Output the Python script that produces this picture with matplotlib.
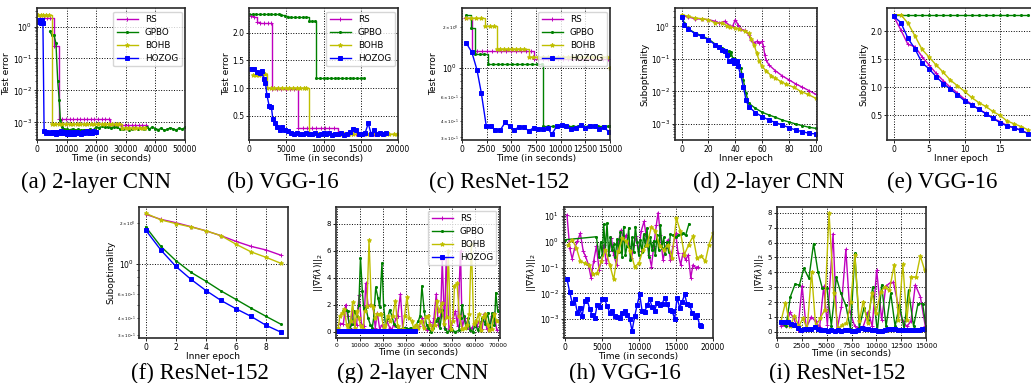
import matplotlib
matplotlib.use('Agg')
import matplotlib.pyplot as plt

W, H = 1031, 383

methods = ['RS', 'GPBO', 'BOHB', 'HOZOG']
colors = {'RS': 'm', 'GPBO': 'g', 'BOHB': 'y', 'HOZOG': 'b'}
markers = {'RS': '+', 'GPBO': '.', 'BOHB': '*', 'HOZOG': 's'}
msizes = {'RS': 3.0, 'GPBO': 3.0, 'BOHB': 3.2, 'HOZOG': 2.2}

captions = ['(a) 2-layer CNN', '(b) VGG-16', '(c) ResNet-152', '(d) 2-layer CNN', '(e) VGG-16',
            '(f) ResNet-152', '(g) 2-layer CNN', '(h) VGG-16', '(i) ResNet-152']

# ---------------- (a) 2-layer CNN test error ----------------
a_rs_t = [1100, 2200, 3300, 4400, 5600, 6500, 7300, 8500, 9700, 11000, 12200, 13400, 14600, 15800,
          17000, 18200, 19400, 20600, 21800, 23000, 24200, 24700, 26000, 27200, 28400, 29600,
          30800, 32000, 33200, 34400, 35600, 36700]
a_rs_v = [1.8, 1.8, 1.8, 1.8, 0.25, 0.25, 1.3e-3, 1.3e-3, 1.3e-3, 1.3e-3, 1.3e-3, 1.3e-3, 1.3e-3, 1.3e-3,
          1.3e-3, 1.3e-3, 1.3e-3, 1.3e-3, 1.3e-3, 1.3e-3, 1.3e-3, 8.5e-4, 8.5e-4, 8.5e-4, 8.5e-4, 8.5e-4,
          8.5e-4, 8.5e-4, 8.5e-4, 8.5e-4, 8.5e-4, 8.5e-4]
a_gp_t = [4300, 5000, 5700, 6400, 7000, 7500, 7900, 8500, 9200,
          10000, 11000, 12000, 13000, 14000, 15000, 16000, 17000, 18000, 19000,
          20000, 21000, 22000, 23000, 24000, 25000, 26000, 27000, 28000, 29000,
          30000, 31000, 32000, 33000, 34000, 35000, 36000, 37000, 38000, 39000,
          40000, 41000, 42000, 43000, 44000, 45000, 46000, 47000, 48000, 49000, 50000]
a_gp_v = [0.7, 0.55, 0.55, 0.3, 0.02, 5e-3, 1.2e-3, 7e-4, 6.2e-4,
          6.0e-4, 5.8e-4, 6.2e-4, 5.7e-4, 6.0e-4, 5.6e-4, 5.9e-4, 5.7e-4, 6.1e-4, 5.8e-4,
          7.2e-4, 6.8e-4, 7.5e-4, 6.9e-4, 7.3e-4, 6.6e-4, 7.4e-4, 7.0e-4, 6.3e-4, 6.0e-4,
          6.5e-4, 5.8e-4, 6.2e-4, 6.8e-4, 6.0e-4, 6.6e-4, 6.1e-4, 6.9e-4, 6.3e-4, 7.1e-4,
          6.4e-4, 5.9e-4, 6.6e-4, 5.6e-4, 6.0e-4, 6.8e-4, 6.2e-4, 5.8e-4, 6.5e-4, 6.1e-4, 6.9e-4]
a_bo_t = [300, 1200, 2100, 3000, 3900, 5000, 6200, 7400, 8600, 9800, 11000, 12200, 13400, 14600,
          15800, 17000, 18200, 19400, 20600, 21800, 23000, 24200, 25400, 26600, 27800,
          28700, 29900, 31100, 32300, 33500, 34700, 35900, 36500]
a_bo_v = [2.3, 2.3, 2.3, 2.3, 2.3, 9e-4, 9e-4, 9e-4, 9e-4, 9e-4, 9e-4, 9e-4, 9e-4, 9e-4,
          9e-4, 9e-4, 9e-4, 9e-4, 9e-4, 9e-4, 9e-4, 9e-4, 9e-4, 9e-4, 9e-4,
          6.5e-4, 6.5e-4, 6.5e-4, 6.5e-4, 6.5e-4, 6.5e-4, 6.5e-4, 6.5e-4]
a_ho_t = [400, 800, 1200, 1600, 2000, 2400, 3000, 3500, 4000, 4500,
          5000, 5500, 6000, 6500, 7000, 7500, 8000, 8500, 9000, 9500,
          10000, 10500, 11000, 11500, 12000, 12500, 13000, 13500, 14000, 14500,
          15000, 15500, 16000, 16500, 17000, 17500, 18000, 18500, 19000, 19500, 20000]
a_ho_v = [1.4, 1.55, 1.25, 1.6, 1.3, 5.2e-4, 4.6e-4, 5.0e-4, 4.8e-4, 4.5e-4,
          5.1e-4, 4.7e-4, 4.9e-4, 4.4e-4, 5.0e-4, 4.6e-4, 5.2e-4, 4.8e-4, 4.5e-4, 4.9e-4,
          4.3e-4, 5.0e-4, 4.7e-4, 4.4e-4, 4.9e-4, 4.2e-4, 4.6e-4, 5.1e-4, 4.5e-4, 4.8e-4,
          4.4e-4, 5.0e-4, 4.6e-4, 4.9e-4, 5.3e-4, 4.7e-4, 5.0e-4, 4.8e-4, 5.2e-4, 5.0e-4, 5.1e-4]

# ---------------- (b) VGG-16 test error ----------------
b_rs_t = [300, 700, 1100, 1500, 2000, 2500, 3000,
          3100, 3700, 4300, 4900, 5500, 6100,
          6600, 7200, 7800, 8400, 9000, 9600, 10200, 10800, 11400,
          12000, 12600, 13200, 13800, 14400, 15000, 15600, 16200, 16800, 17400, 18000]
b_rs_v = [2.3, 2.28, 2.2, 2.18, 2.18, 2.18, 2.18,
          0.98, 0.98, 0.98, 0.98, 0.98, 0.98,
          0.27, 0.27, 0.27, 0.27, 0.27, 0.27, 0.27, 0.27, 0.27,
          0.16, 0.16, 0.16, 0.16, 0.16, 0.16, 0.16, 0.16, 0.16, 0.16, 0.16]
b_gp_t = [0, 500, 1000, 1500, 2000, 2500, 3000, 3500, 4000, 4300, 4800,
          5200, 5700, 6200, 6700, 7200, 7700, 8000, 8400, 8800,
          9000, 9500, 10000, 10500, 11000, 11500, 12000, 12500, 13000, 13500, 14000, 14500, 15000, 15500]
b_gp_v = [2.35, 2.35, 2.35, 2.35, 2.35, 2.35, 2.35, 2.35, 2.35, 2.33, 2.31,
          2.29, 2.29, 2.29, 2.29, 2.29, 2.29, 2.21, 2.21, 2.21,
          1.19, 1.19, 1.19, 1.19, 1.19, 1.19, 1.19, 1.19, 1.19, 1.19, 1.19, 1.19, 1.19, 1.19]
b_bo_t = [600, 1000, 1400, 1800, 2100,
          2450, 2900, 3400, 3900, 4400, 4900, 5400, 5900, 6400, 6900, 7400, 7700,
          8000, 8600, 9200, 9800, 10400, 11000, 11600, 12200, 12800, 13400, 14000, 14600,
          15200, 15800, 16400, 17000, 17600, 18200, 18800, 19400, 19800]
b_bo_v = [1.23, 1.23, 1.23, 1.25, 1.25,
          1.0, 1.0, 1.0, 1.0, 1.0, 1.0, 1.0, 1.0, 1.0, 1.0, 1.0, 1.0,
          0.17, 0.17, 0.17, 0.17, 0.17, 0.17, 0.17, 0.17, 0.17, 0.17, 0.17, 0.17,
          0.17, 0.17, 0.17, 0.17, 0.17, 0.17, 0.17, 0.17, 0.17]
b_ho_t = [300, 700, 1100, 1500, 1700, 2000, 2200, 2400, 2700, 3000,
          3200, 3500, 3800, 4100, 4400, 4800, 5200, 5600, 6000, 6400,
          6800, 7200, 7600, 8000,
          8400, 8800, 9200, 9600, 10000, 10400, 10800, 11200, 11600, 12000,
          12400, 12800, 13200, 13600, 14000, 14400, 14800, 15200, 15600, 16000,
          16400, 16800, 17200, 17600, 18000, 18400]
b_ho_v = [1.35, 1.34, 1.30, 1.27, 1.31, 1.16, 1.10, 0.88, 0.68, 0.66,
          0.44, 0.36, 0.30, 0.24, 0.29, 0.25, 0.22, 0.18, 0.17, 0.19,
          0.17, 0.16, 0.18, 0.17,
          0.16, 0.18, 0.15, 0.17, 0.19, 0.16, 0.18, 0.15, 0.17, 0.16,
          0.18, 0.15, 0.17, 0.21, 0.26, 0.25, 0.17, 0.16, 0.19, 0.36,
          0.17, 0.24, 0.16, 0.18, 0.17, 0.18]

# ---------------- (c) ResNet-152 test error ----------------
c_rs_t = [340, 1000, 1500, 2000, 2500, 3000, 3500, 4000, 4500, 5000, 5500, 6000, 6500, 7000,
          7250, 7750, 8250, 8750, 9250, 9750, 10250, 10750, 11250, 11750, 12250, 12750,
          13250, 13750, 14250, 14750]
c_rs_v = [2.34, 1.34, 1.34, 1.34, 1.34, 1.34, 1.34, 1.34, 1.34, 1.34, 1.34, 1.34, 1.34, 1.34,
          1.155, 1.155, 1.155, 1.155, 1.155, 1.155, 1.155, 1.155, 1.155, 1.155, 1.155, 1.155,
          1.155, 1.155, 1.155, 1.155]
c_gp_t = [440, 900, 1350, 1800, 2250,
          2600, 3100, 3600, 4100, 4600, 5100, 5600, 6100, 6600, 7100, 7600, 8100,
          8260, 8760, 9260, 9760, 10260, 10760, 11260, 11760, 12260, 12760, 13260, 13760, 14260, 14760, 15000]
c_gp_v = [2.48, 1.97, 1.26, 1.26, 1.26,
          1.065, 1.065, 1.065, 1.065, 1.065, 1.065, 1.065, 1.065, 1.065, 1.065, 1.065, 1.065,
          0.365, 0.365, 0.365, 0.365, 0.365, 0.365, 0.365, 0.365, 0.365, 0.365, 0.365, 0.365, 0.365, 0.365, 0.365]
c_bo_t = [440, 900, 1400, 1900, 2360, 2800, 3200,
          3540, 3900, 4300, 4700, 5100, 5500, 5900, 6300,
          6740, 7200, 7700, 8200, 8700, 9200, 9700, 10200, 10700, 11200, 11700, 12200,
          12700, 13200, 13700, 14200, 14700, 15000]
c_bo_v = [2.34, 2.34, 2.34, 2.34, 2.05, 2.05, 2.05,
          1.37, 1.37, 1.37, 1.37, 1.37, 1.37, 1.37, 1.37,
          1.2, 1.2, 1.2, 1.2, 1.2, 1.2, 1.2, 1.2, 1.2, 1.2, 1.2, 1.2,
          1.2, 1.2, 1.2, 1.2, 1.2, 1.0]
c_ho_t = [440, 1000, 1520, 1950, 2460, 2930, 3370, 3880, 4380, 4820, 5290, 5800, 6300, 6780,
          7250, 7750, 8260, 8700, 9100, 9600, 10100, 10580, 11050, 11530, 12030, 12500,
          12980, 13480, 13920, 14420, 14900]
c_ho_v = [1.52, 1.30, 0.96, 0.65, 0.365, 0.365, 0.341, 0.341, 0.389, 0.365, 0.341, 0.361, 0.357, 0.335,
          0.355, 0.349, 0.349, 0.351, 0.316, 0.365, 0.372, 0.365, 0.347, 0.355, 0.372, 0.351,
          0.365, 0.367, 0.345, 0.359, 0.327]

# ---------------- (d) 2-layer CNN suboptimality ----------------
d_rs_x = [0, 5, 10, 15, 20, 25, 28, 32, 36, 38, 40, 42, 44, 47, 50, 52, 54, 56, 58, 60,
          61, 62, 63, 65, 70, 75, 80, 85, 90, 95, 100]
d_rs_v = [2.13, 1.94, 1.72, 1.68, 1.61, 1.43, 1.27, 1.43, 1.05, 1.0, 1.61, 1.13, 0.828, 0.753, 0.553,
          0.370, 0.306, 0.345, 0.306, 0.345, 0.242, 0.134, 0.0938, 0.0658, 0.043, 0.0301, 0.0227,
          0.0171, 0.0135, 0.0106, 0.0082]
d_gp_x = [0, 2, 5, 10, 15, 20, 25, 28, 30, 33, 35, 36, 37, 38, 40, 42, 44, 46, 48, 50,
          55, 60, 65, 70, 75, 80, 85, 90, 95, 100]
d_gp_v = [2.03, 1.27, 0.828, 0.623, 0.515, 0.407, 0.285, 0.242, 0.215, 0.191, 0.170, 0.134, 0.158,
          0.106, 0.0984, 0.0834, 0.0519, 0.0227, 0.00881, 0.00433, 0.00303, 0.00229, 0.00189,
          0.00160, 0.00132, 0.00115, 0.000998, 0.000887, 0.000787, 0.000733]
d_bo_x = [0, 5, 10, 15, 20, 25, 30, 34, 36, 40, 43, 47, 50, 52, 54, 56, 58, 60, 63, 67,
          70, 74, 78, 84, 89, 94, 100]
d_bo_v = [2.29, 2.03, 1.81, 1.72, 1.61, 1.27, 1.27, 1.05, 0.954, 0.888, 0.828, 0.70, 0.623, 0.407,
          0.272, 0.151, 0.0834, 0.0585, 0.043, 0.0301, 0.0255, 0.0201, 0.0167, 0.0132, 0.0099,
          0.0082, 0.00617]
d_ho_x = [0, 2, 5, 10, 15, 20, 25, 28, 30, 32, 34, 35, 37, 38, 39, 40, 41, 42, 44, 46,
          48, 50, 55, 60, 65, 70, 75, 80, 85, 90, 95, 100]
d_ho_v = [1.89, 1.13, 0.828, 0.594, 0.492, 0.388, 0.272, 0.225, 0.191, 0.178, 0.134, 0.0834,
          0.0834, 0.0895, 0.0740, 0.0776, 0.0834, 0.0612, 0.0323, 0.0141, 0.00548, 0.00341,
          0.00223, 0.00168, 0.00132, 0.00110, 0.000929, 0.000769, 0.000651, 0.000579,
          0.000514, 0.000491]

# ---------------- (e) VGG-16 suboptimality ----------------
e_epochs = [0, 1, 2, 3, 4, 5, 6, 7, 8, 9, 10, 11, 12, 13, 14, 15, 16, 17, 18, 19]
e_rs_v = [2.27, 2.03, 1.77, 1.73, 1.55, 1.40, 1.25, 1.12, 1.0, 0.90, 0.79, 0.70, 0.61, 0.54,
          0.45, 0.39, 0.32, 0.28, 0.23, 0.18]
e_gp_v = [2.30, 2.30, 2.30, 2.30, 2.30, 2.30, 2.30, 2.30, 2.30, 2.30, 2.30, 2.30, 2.30, 2.30,
          2.30, 2.30, 2.30, 2.30, 2.30, 2.30]
e_bo_v = [2.30, 2.30, 2.15, 1.92, 1.68, 1.54, 1.40, 1.27, 1.13, 1.03, 0.93, 0.82, 0.73, 0.66,
          0.57, 0.50, 0.40, 0.35, 0.30, 0.24]
e_ho_v = [2.27, 2.16, 1.88, 1.69, 1.44, 1.33, 1.19, 1.07, 0.97, 0.87, 0.76, 0.69, 0.61, 0.53,
          0.45, 0.37, 0.31, 0.28, 0.23, 0.17]

# ---------------- (f) ResNet-152 suboptimality ----------------
f_epochs = [0, 1, 2, 3, 4, 5, 6, 7, 8, 9]
f_rs_v = [2.33, 2.14, 2.02, 1.89, 1.76, 1.62, 1.47, 1.35, 1.27, 1.16]
f_gp_v = [1.88, 1.35, 1.06, 0.869, 0.746, 0.633, 0.547, 0.472, 0.410, 0.358]
f_bo_v = [2.37, 2.12, 1.99, 1.88, 1.76, 1.62, 1.40, 1.23, 1.12, 1.01]
f_ho_v = [1.78, 1.27, 0.961, 0.771, 0.637, 0.538, 0.467, 0.410, 0.352, 0.313]

# ---------------- (g) 2-layer CNN gradient norm ----------------
g_rs_t = [1400, 2900, 3900, 4700, 5700, 6700, 7600, 8600, 9700, 10700, 11700, 12600, 13600, 14600,
          15700, 16700, 17600, 18600, 19600, 20700, 21700, 22900, 23900, 24700, 25700, 26400,
          27600, 28600, 29700, 30700, 31900, 32900, 34300, 35700, 37100, 38300, 39300, 40300,
          41400, 42100, 43100, 44000, 45000, 45700, 46700, 47400, 48600, 49600, 50400, 51400,
          52400, 53600, 54300, 55400, 56400, 57400, 58600, 59600, 60700, 61700, 62900, 63900,
          65000, 66000, 67100, 68100, 69300]
g_rs_v = [0.6, 0.6, 2.0, 1.2, 0.3, 1.5, 0.5, 0.5, 2.7, 0.6, 0.4, 3.6, 1.9, 2.0,
          1.9, 0.3, 1.4, 0.2, 0.5, 0.1, 0.8, 0.3, 0.2, 0.5, 1.0, 1.2,
          2.8, 0.2, 0.3, 0.15, 0.2, 0.2, 0.1, 0.4, 1.0, 0.3, 0.1, 0.7,
          0.3, 1.0, 2.8, 0.5, 1.2, 5.3, 0.3, 5.5, 0.2, 0.5, 1.0, 1.5,
          0.4, 6.0, 0.3, 1.0, 0.5, 0.2, 0.3, 0.5, 0.4, 0.8, 0.2, 1.3,
          0.2, 0.3, 1.2, 1.4, 0.1]
g_gp_t = [2900, 3900, 4700, 5700, 6700, 7600, 8600, 9600, 10300, 11100, 11700, 12600, 13600,
          14600, 15400, 16000, 16900, 17900, 18600, 19600, 20300, 21100, 22100, 22900, 23900,
          24700, 25700, 26900, 27900, 28900, 30000, 31100, 32100, 33100, 34300, 35400, 36100,
          36900, 37900, 38900, 39700, 40700, 41700, 42900, 43900, 44700, 45700, 46900, 47900,
          49000, 50000, 51400, 52900, 53600, 54300, 55000, 56000, 56900, 57900, 58900, 60000,
          61000, 62100, 63100, 64300, 65300, 66400, 67400, 68300, 68900, 69700]
g_gp_v = [1.5, 1.6, 1.5, 0.2, 0.6, 1.5, 1.2, 2.0, 5.5, 3.0, 1.7, 1.8, 1.0,
          0.5, 0.3, 1.0, 3.3, 2.5, 1.8, 5.1, 2.0, 0.5, 1.0, 1.6, 1.2,
          0.6, 0.4, 0.2, 0.2, 0.3, 0.3, 0.2, 0.3, 0.2, 0.5, 0.8, 1.2,
          3.4, 1.5, 0.5, 0.3, 0.0, 0.3, 0.8, 1.0, 0.3, 1.6, 0.2, 0.0,
          0.1, 0.1, 0.0, 0.1, 1.0, 2.0, 1.2, 0.3, 1.0, 0.1, 0.0, 0.6,
          0.1, 0.4, 1.0, 0.6, 1.4, 0.3, 1.4, 0.5, 2.9, 1.5]
g_bo_t = [700, 1400, 2400, 3300, 4300, 5000, 6000, 6900, 7900, 8600, 9600, 10400, 11400, 12100,
          13100, 14000, 15000, 15700, 16700, 17600, 18600, 19300, 20300, 21100, 22100, 23100,
          24300, 25400, 26400, 27400, 28600, 29400, 30400, 31400, 32400, 33300, 34300, 35300,
          36400, 37600, 38600, 39600, 40400, 41400, 42400, 43300, 44300, 45400, 46400, 47600,
          48300, 49300, 50300, 51000, 52100, 53100, 54300, 55400, 56400, 57400, 58300, 59300,
          60400, 61400, 62400, 63300, 64300, 65300, 66100, 67100, 68100, 69300]
g_bo_v = [0.3, 1.2, 1.4, 1.7, 0.5, 0.2, 0.8, 2.2, 0.3, 1.5, 1.0, 0.4, 0.2, 1.5,
          1.9, 6.8, 2.0, 1.8, 1.0, 1.3, 1.3, 1.3, 0.3, 0.5, 1.2, 0.8,
          1.2, 2.3, 0.4, 0.1, 0.2, 1.2, 2.6, 1.0, 0.8, 0.3, 0.5, 0.3,
          0.8, 0.3, 1.1, 1.2, 0.5, 0.2, 0.5, 2.3, 1.5, 2.1, 0.6, 1.1,
          6.0, 0.2, 0.8, 3.4, 3.6, 1.2, 0.2, 0.3, 0.5, 1.3, 6.5, 0.6,
          0.8, 1.3, 0.1, 1.1, 1.3, 0.5, 0.1, 0.2, 1.3, 0.8]
g_ho_t = [0, 1000, 2000, 3000, 4000, 5000, 6000, 7000, 8000, 9000,
          10000, 11000, 12000, 13000, 14000, 15000, 16000, 17000, 18000, 19000,
          20000, 21000, 22000, 23000, 24000, 25000, 26000, 27000, 28000, 29000,
          30000, 31000, 32000, 33000, 34000]
g_ho_v = [0.05, 0.04, 0.03, 0.04, 0.03, 0.02, 0.03, 0.04, 0.03, 0.02,
          0.03, 0.03, 0.02, 0.04, 0.03, 0.02, 0.03, 0.02, 0.03, 0.04,
          0.02, 0.03, 0.02, 0.03, 0.02, 0.03, 0.04, 0.02, 0.03, 0.02,
          0.03, 0.02, 0.03, 0.02, 0.03]
g_xticks = [0, 10000, 20000, 30000, 40000, 50000, 60000, 70000]

# ---------------- (h) VGG-16 gradient norm ----------------
h_rs_t = [300, 670, 1000, 1350, 1700, 2100, 2500, 2800, 3200, 3550, 3900, 4270, 4630, 5000,
          5300, 5600, 6000, 6300, 6600, 7000, 7300, 7640, 7950, 8300, 8670, 9000, 9350, 9660,
          10000, 10300, 10700, 11000, 11370, 11700, 12000, 12360, 12600, 12900, 13260, 13600,
          13930, 14250, 14600, 14970, 15280, 15640, 15960, 16300, 16670, 17000, 17300, 17660, 17980]
h_rs_v = [11.5, 0.59, 0.22, 0.59, 1.06, 2.2, 0.43, 0.28, 0.13, 0.04, 0.18, 0.68, 0.085, 0.2,
          0.79, 0.15, 0.43, 1.4, 0.32, 0.13, 1.23, 3.0, 1.06, 1.9, 0.68, 0.24, 0.79, 1.66,
          0.43, 2.6, 6.3, 1.66, 0.32, 0.11, 0.68, 4.7, 14.0, 1.9, 0.2, 0.59,
          1.23, 0.2, 0.68, 2.2, 0.37, 0.13, 0.37, 0.2, 0.32, 0.04, 0.13, 0.1, 0.11]
h_gp_t = [100, 4270, 4630, 4850, 5080, 5260, 5480, 5700, 5930, 6160, 6380, 6600, 6830, 7060,
          7280, 7500, 7730, 7950, 8180, 8400, 8630, 8850, 9080, 9300, 9530, 9750, 9980, 10200,
          10430, 10650, 10880, 11100, 11330, 11550, 11780, 12000, 12220, 12450, 12680, 12900,
          13120, 13350, 13570, 13800, 14020, 14250, 14600, 14970, 15280, 15640, 15960, 16300, 16750]
h_gp_v = [1.23, 1.6, 0.25, 1.0, 0.3, 5.0, 0.5, 5.5, 0.3, 1.5, 0.5, 0.8, 0.25, 1.3,
          0.4, 2.5, 0.25, 4.0, 0.3, 0.7, 3.5, 0.2, 1.5, 0.4, 4.0, 1.0, 0.3, 1.2,
          0.4, 2.0, 0.7, 3.5, 0.25, 1.5, 0.5, 1.1, 0.3, 1.8, 0.5, 4.5,
          0.6, 1.5, 0.35, 1.0, 0.4, 2.0, 1.8, 1.5, 1.8, 2.0, 2.2, 1.8, 5.0]
h_bo_t = [450, 1000, 1570, 2100, 2700, 3280, 3820, 4360, 4940, 5480, 6070, 6600, 7190, 7780,
          8300, 8850, 9440, 10000, 10560, 11100, 11700, 12220, 12800, 13350, 13930, 14470,
          15060, 15600, 16130, 16720, 17300, 17840, 18430, 18970, 19460, 20000]
h_bo_v = [0.79, 1.23, 0.59, 0.18, 0.15, 0.13, 0.055, 0.063, 0.18, 0.5, 0.13, 0.035, 0.43, 1.4,
          1.06, 0.43, 0.11, 0.15, 0.5, 0.79, 4.0, 2.6, 0.68, 0.5, 0.79, 0.24,
          8.5, 2.6, 0.32, 0.79, 1.66, 0.24, 0.28, 0.18, 0.79, 2.2]
h_ho_t = [300, 670, 1000, 1350, 1700, 2000, 2340, 2700, 3000, 3370, 3680, 4050, 4360, 4720,
          5030, 5390, 5700, 6070, 6380, 6740, 7060, 7420, 7730, 8090, 8400, 8760, 9080, 9440,
          9750, 10110, 10430, 10790, 11100, 11460, 11780, 12130, 12450, 12810, 13120, 13480,
          13800, 14160, 14470, 14830, 15150, 15510, 15820, 16180, 16490, 16850, 17170, 17530,
          17840, 18200, 18430]
h_ho_v = [0.037, 0.011, 0.0044, 0.0058, 0.0018, 0.0028, 0.0013, 0.005, 0.0062, 0.0024, 0.0015,
          0.0011, 0.0034, 0.003, 0.0058, 0.0058, 0.0033, 0.0018, 0.0021, 0.0013, 0.0012, 0.0011,
          0.0018, 0.0021, 0.0014, 0.001, 0.00035, 0.0013, 0.0034, 0.0092, 0.0021, 0.0019, 0.0034,
          0.0058, 0.003, 0.0021, 0.0044, 0.0034, 0.0038, 0.0068, 0.0038, 0.0022, 0.0021, 0.00104,
          0.0068, 0.0028, 0.0046, 0.0092, 0.0038, 0.0034, 0.0018, 0.0012, 0.0015, 0.00058, 0.00055]

# ---------------- (i) ResNet-152 gradient norm ----------------
i_rs_t = [400, 900, 1300, 1700, 2100, 2530, 2940, 3450, 3890, 4290, 4700, 5070, 5640, 6050,
          6490, 6930, 7330, 7840, 8280, 8680, 9190, 9590, 10030, 10540, 10950, 11390, 11720,
          12230, 12640, 13070, 13480, 13920, 14430, 14930]
i_rs_v = [0.42, 0.36, 1.3, 0.9, 0.13, 3.1, 0.25, 1.0, 0.7, 0.3, 3.05, 0.47, 6.6, 0.13,
          1.7, 5.55, 1.36, 0.36, 0.25, 0.36, 1.36, 0.36, 4.15, 0.8, 3.05, 3.3, 3.33,
          1.7, 0.7, 0.36, 0.7, 3.15, 2.37, 0.36]
i_gp_t = [400, 900, 1350, 1820, 2260, 2700, 3210, 3680, 4120, 4560, 5030, 5470, 5980, 6420,
          6930, 7400, 7840, 8280, 8750, 9190, 9630, 10100, 10540, 10980, 11450, 11890, 12330,
          12800, 13240, 13750, 14190, 14660, 15000]
i_gp_v = [0.58, 0.36, 2.37, 3.2, 3.15, 4.27, 3.6, 5.94, 4.05, 2.93, 2.93, 0.4, 3.66, 2.6,
          1.77, 0.18, 5.27, 0.27, 1.59, 0.8, 3.0, 0.02, 3.15, 0.36, 2.6, 0.36, 1.81,
          0.18, 2.8, 0.36, 1.88, 1.88, 0.36]
i_bo_t = [400, 850, 1320, 1760, 2200, 2600, 3040, 3480, 3890, 4360, 4800, 5240, 5710, 6150,
          6590, 6990, 7430, 7840, 8280, 8680, 9120, 9560, 9970, 10440, 10880, 11320, 11790,
          12230, 12670, 13070, 13510, 13990, 14430, 14860]
i_bo_v = [0.7, 1.97, 0.36, 1.07, 0.36, 0.92, 0.18, 4.05, 0.36, 0.92, 1.47, 8.0, 2.6, 0.22,
          0.47, 0.58, 2.03, 5.16, 0.7, 2.03, 0.58, 2.6, 1.25, 2.7, 3.04, 2.8, 4.5,
          0.8, 4.54, 0.8, 3.7, 3.66, 5.1, 4.15]
i_ho_t = [400, 740, 1080, 1420, 1760, 2100, 2430, 2770, 3110, 3450, 3780, 4120, 4460, 4800,
          5140, 5470, 5810, 6150, 6490, 6820, 7160, 7500, 7840, 8180, 8510, 8850, 9190, 9530,
          9860, 10200, 10540, 10880, 11220, 11550, 11890, 12230, 12570, 12900, 13240, 13580,
          13920, 14260, 14600, 14930]
i_ho_v = [0.63, 0.63, 0.69, 0.54, 0.47, 0.25, 0.13, 0.18, 0.18, 0.18, 0.29, 0.18, 0.09, 0.09,
          0.07, 0.09, 0.07, 0.09, 0.07, 0.09, 0.09, 0.07, 0.07, 0.09, 0.25, 0.2, 0.18, 0.13,
          0.09, 0.07, 0.07, 0.09, 0.18, 0.2, 0.18, 0.13, 0.11, 0.09, 0.09, 0.09,
          0.09, 0.13, 0.18, 0.2]
i_yticks = [0, 1, 2, 3, 4, 5, 6, 7, 8]

# ---------------- layout (pixel boxes: left, right, top, bottom) ----------------
boxes = {
    'a': (37, 185, 8, 140), 'b': (249, 398, 8, 140), 'c': (462, 610, 8, 140),
    'd': (675, 817, 8, 140), 'e': (887, 1035, 8, 140),
    'f': (139, 288, 207, 338), 'g': (336, 500, 207, 338), 'h': (564, 713, 207, 338),
    'i': (777, 926, 207, 338),
}
cap_pos = {'a': (96, 182), 'b': (283, 182), 'c': (499, 182), 'd': (769, 182), 'e': (942, 182),
           'f': (200, 373), 'g': (413, 373), 'h': (625, 373), 'i': (837, 373)}

fig = plt.figure(figsize=(W / 100, H / 100), dpi=100)


def make_ax(key):
    l, r, t, b = boxes[key]
    ax = fig.add_axes([l / W, 1 - b / H, (r - l) / W, (b - t) / H])
    ax.grid(True, which='major', ls=':', color='k', lw=0.7)
    for s in ax.spines.values():
        s.set_linewidth(1.2)
        s.set_color('#2a2a2a')
    ax.tick_params(which='major', labelsize=5.5, length=2.5, width=0.6, pad=1.0)
    ax.tick_params(which='minor', labelsize=3, length=1.5, width=0.5, pad=1.0)
    return ax


def draw(ax, series, steps=False, ho_ms=None):
    for name, (x, y) in zip(methods, series):
        ms = msizes[name] if (ho_ms is None or name != 'HOZOG') else ho_ms
        ax.plot(x, y, color=colors[name], marker=markers[name], ms=ms, mew=0.7,
                lw=1.0, label=name, drawstyle='steps-post' if steps else 'default')


def legend(ax):
    ax.legend(loc='upper right', fontsize=6.3, handlelength=2.4, labelspacing=0.45,
              borderpad=0.4, handletextpad=0.8, borderaxespad=0.4)


xlab = dict(fontsize=6.5, labelpad=0.3)
ylab = dict(fontsize=6.5, labelpad=1.0)
grad_label = r'$||\nabla f(\lambda)||_2$'

# (a)
ax = make_ax('a')
ax.set_yscale('log')
ax.plot(a_rs_t, a_rs_v, color='m', marker='+', ms=3, mew=0.7, lw=1.0, label='RS', drawstyle='steps-post')
ax.plot(a_gp_t, a_gp_v, color='g', marker='.', ms=3, mew=0.7, lw=1.0, label='GPBO')
ax.plot(a_bo_t, a_bo_v, color='y', marker='*', ms=3.2, mew=0.7, lw=1.0, label='BOHB', drawstyle='steps-post')
ax.plot(a_ho_t, a_ho_v, color='b', marker='s', ms=2.2, mew=0.7, lw=1.0, label='HOZOG')
ax.set_xlim(0, 50000)
ax.set_ylim(2.8e-4, 3.8)
ax.set_xlabel('Time (in seconds)', **xlab)
ax.set_ylabel('Test error', **ylab)
legend(ax)

# (b)
ax = make_ax('b')
draw(ax, [(b_rs_t, b_rs_v), (b_gp_t, b_gp_v), (b_bo_t, b_bo_v)], steps=True)
ax.plot(b_ho_t, b_ho_v, color='b', marker='s', ms=2.2, mew=0.7, lw=1.0, label='HOZOG')
ax.set_xlim(0, 20000)
ax.set_ylim(0.06, 2.45)
ax.set_xlabel('Time (in seconds)', **xlab)
ax.set_ylabel('Test error', **ylab)
legend(ax)

# (c)
ax = make_ax('c')
ax.set_yscale('log')
draw(ax, [(c_rs_t, c_rs_v), (c_gp_t, c_gp_v), (c_bo_t, c_bo_v)], steps=True)
ax.plot(c_ho_t, c_ho_v, color='b', marker='s', ms=2.2, mew=0.7, lw=1.0, label='HOZOG')
ax.set_xlim(0, 15000)
ax.set_ylim(0.287, 2.79)
ax.set_xlabel('Time (in seconds)', **xlab)
ax.set_ylabel('Test error', **ylab)
legend(ax)

# (d)
ax = make_ax('d')
ax.set_yscale('log')
draw(ax, [(d_rs_x, d_rs_v), (d_gp_x, d_gp_v), (d_bo_x, d_bo_v), (d_ho_x, d_ho_v)])
ax.set_xlim(-5, 101)
ax.set_ylim(3.2e-4, 3.67)
ax.set_xlabel('Inner epoch', **xlab)
ax.set_ylabel('Suboptimality', **ylab)

# (e)
ax = make_ax('e')
draw(ax, [(e_epochs, e_rs_v), (e_epochs, e_gp_v), (e_epochs, e_bo_v), (e_epochs, e_ho_v)])
ax.set_xlim(-0.95, 19.95)
ax.set_ylim(0.06, 2.42)
ax.set_xlabel('Inner epoch', **xlab)
ax.set_ylabel('Suboptimality', **ylab)

# (f)
ax = make_ax('f')
ax.set_yscale('log')
draw(ax, [(f_epochs, f_rs_v), (f_epochs, f_gp_v), (f_epochs, f_bo_v), (f_epochs, f_ho_v)])
ax.set_xlim(-0.45, 9.45)
ax.set_ylim(0.284, 2.64)
ax.set_xlabel('Inner epoch', **xlab)
ax.set_ylabel('Suboptimality', **ylab)

# (g)
ax = make_ax('g')
draw(ax, [(g_rs_t, g_rs_v), (g_gp_t, g_gp_v), (g_bo_t, g_bo_v), (g_ho_t, g_ho_v)], ho_ms=2.8)
ax.set_xlim(-300, 70700)
ax.set_xticks(g_xticks)
ax.tick_params(axis='x', labelsize=4.3)
ax.tick_params(axis='y', labelsize=5)
ax.set_ylim(-0.47, 9.26)
ax.set_xlabel('Time (in seconds)', **xlab)
ax.set_ylabel(grad_label, **ylab)
legend(ax)

# (h)
ax = make_ax('h')
ax.set_yscale('log')
draw(ax, [(h_rs_t, h_rs_v), (h_gp_t, h_gp_v), (h_bo_t, h_bo_v), (h_ho_t, h_ho_v)])
ax.set_xlim(-100, 20000)
ax.set_ylim(1.84e-4, 23)
ax.set_xlabel('Time (in seconds)', **xlab)
ax.set_ylabel(grad_label, **ylab)

# (i)
ax = make_ax('i')
draw(ax, [(i_rs_t, i_rs_v), (i_gp_t, i_gp_v), (i_bo_t, i_bo_v), (i_ho_t, i_ho_v)])
ax.set_xlim(0, 15000)
ax.set_ylim(-0.42, 8.4)
ax.set_yticks(i_yticks)
ax.tick_params(axis='both', labelsize=5)
ax.set_xlabel('Time (in seconds)', **xlab)
ax.set_ylabel(grad_label, **ylab)

for key, text in zip('abcdefghi', captions):
    x, y = cap_pos[key]
    fig.text(x / W, 1 - y / H, text, ha='center', va='center', fontsize=16.5,
             family='Liberation Serif')

fig.savefig('out.png', dpi=100)
